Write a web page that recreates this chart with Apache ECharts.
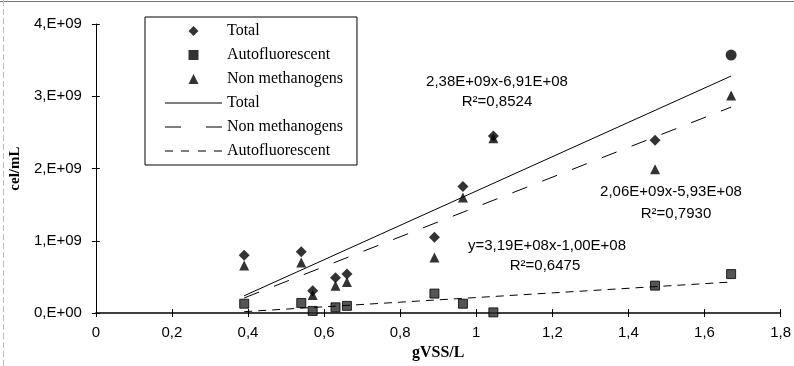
<!DOCTYPE html>
<html>
<head>
<meta charset="utf-8">
<script src="https://cdn.jsdelivr.net/npm/echarts@6/dist/echarts.min.js"></script>
<style>
  html, body { margin: 0; padding: 0; background: #fff; }
  #chart { width: 794px; height: 366px; }
</style>
</head>
<body>
<div id="chart"></div>
<script>
// gVSS/L
var xVals = [0.39, 0.54, 0.57, 0.63, 0.66, 0.89, 0.965, 1.045, 1.47, 1.67]
// cel/mL
var totalVals = [0.80e9, 0.85e9, 0.31e9, 0.49e9, 0.54e9, 1.05e9, 1.75e9, 2.45e9, 2.39e9, 3.57e9]
var autoVals = [0.13e9, 0.14e9, 0.03e9, 0.08e9, 0.10e9, 0.27e9, 0.13e9, 0.01e9, 0.38e9, 0.54e9]
var nonMethVals = [0.66e9, 0.70e9, 0.25e9, 0.38e9, 0.43e9, 0.77e9, 1.60e9, 2.42e9, 1.99e9, 3.01e9]

// trend line end points
var totalFit = [[0.39, 0.24e9], [1.67, 3.28e9]]
var nonMethFit = [[0.39, 0.21e9], [1.67, 2.85e9]]
var autoFit = [[0.39, 0.02e9], [1.67, 0.43e9]]

var xTicks = ['0', '0,2', '0,4', '0,6', '0,8', '1', '1,2', '1,4', '1,6', '1,8']
var yTicks = ['0,E+00', '1,E+09', '2,E+09', '3,E+09', '4,E+09']

function pairs(ys) {
    return xVals.map(function(x, i) { return [x, ys[i]] })
}

var myChart = echarts.init(document.getElementById('chart'))

var sans = 'Liberation Sans'
var serif = 'Liberation Serif'

var totalData = pairs(totalVals)
// last total point is drawn as a circle
totalData[totalData.length - 1] = { value: totalData[totalData.length - 1], symbol: 'circle', symbolSize: 11 }

// legend icons as paths so they keep their aspect inside the wide icon box
var legendData = [
    { name: 'Total', icon: 'path://M5,0L10,5L5,10L0,5Z' },
    { name: 'Autofluorescent', icon: 'path://M0,0h10v10h-10z' },
    { name: 'Non methanogens', icon: 'path://M5,0L10,10L0,10Z' },
    { name: 'Total ', icon: 'path://M0,0h57v1h-57z' },
    { name: 'Non methanogens ', icon: 'path://M0,0h16v1h-16zM41,0h16v1h-16z' },
    { name: 'Autofluorescent ', icon: 'path://M0,0h8v1h-8zM16,0h8v1h-8zM33,0h8v1h-8zM49,0h8v1h-8z' }
]

var option = {
    animation: false,
    grid: { left: 89, right: 11, top: 24, bottom: 46 },
    legend: {
        orient: 'vertical',
        left: 145,
        top: 17,
        padding: [6, 14, 6, 20],
        itemWidth: 57,
        itemHeight: 10,
        itemGap: 8,
        symbolKeepAspect: true,
        borderColor: '#000',
        borderWidth: 1,
        selectedMode: false,
        backgroundColor: '#fff',
        itemStyle: { color: '#000', borderWidth: 0 },
        textStyle: { fontFamily: serif, fontSize: 16, color: '#000' },
        formatter: function(n) { return n.trim() },
        data: legendData
    },
    xAxis: [{
        type: 'value',
        min: 0,
        max: 1.8,
        interval: 0.2,
        splitLine: { show: false },
        axisLine: { lineStyle: { color: '#000', width: 1.5 } },
        axisTick: { length: 4, lineStyle: { color: '#000' } },
        axisLabel: {
            margin: 12,
            fontFamily: sans,
            fontSize: 15,
            color: '#000',
            formatter: function(v) { return xTicks[Math.round(v / 0.2)] }
        },
        name: 'gVSS/L',
        nameLocation: 'middle',
        nameGap: 31,
        nameTextStyle: { fontFamily: serif, fontWeight: 'bold', fontSize: 16, color: '#000' }
    }, {
        type: 'value',
        position: 'bottom',
        min: 0,
        max: 1.8,
        interval: 0.2,
        splitLine: { show: false },
        axisLine: { show: false },
        axisTick: { inside: true, length: 4, lineStyle: { color: '#000' } },
        axisLabel: { show: false }
    }],
    yAxis: [{
        type: 'value',
        min: 0,
        max: 4e9,
        interval: 1e9,
        splitLine: { show: false },
        axisLine: { show: true, lineStyle: { color: '#000' } },
        axisTick: { show: true, length: 4, lineStyle: { color: '#000' } },
        axisLabel: {
            margin: 14,
            fontFamily: sans,
            fontSize: 15,
            color: '#000',
            formatter: function(v) { return yTicks[Math.round(v / 1e9)] }
        },
        name: 'cel/mL',
        nameLocation: 'middle',
        nameGap: 68,
        nameTextStyle: { fontFamily: serif, fontWeight: 'bold', fontSize: 15, color: '#000' }
    }, {
        type: 'value',
        position: 'left',
        min: 0,
        max: 4e9,
        interval: 1e9,
        splitLine: { show: false },
        axisLine: { show: false },
        axisTick: { show: true, inside: true, length: 4, lineStyle: { color: '#000' } },
        axisLabel: { show: false }
    }],
    series: [{
        name: 'Total',
        type: 'scatter',
        symbol: 'diamond',
        symbolSize: 11,
        itemStyle: { color: '#000' },
        data: totalData
    }, {
        name: 'Autofluorescent',
        type: 'scatter',
        symbol: 'rect',
        symbolSize: 9,
        itemStyle: { color: '#2a2a2a', borderColor: '#000', borderWidth: 1 },
        data: pairs(autoVals)
    }, {
        name: 'Non methanogens',
        type: 'scatter',
        symbol: 'triangle',
        symbolSize: 10,
        itemStyle: { color: '#000' },
        data: pairs(nonMethVals)
    }, {
        name: 'Total ',
        type: 'line',
        symbol: 'none',
        lineStyle: { color: '#000', width: 1 },
        itemStyle: { color: '#000' },
        data: totalFit
    }, {
        name: 'Non methanogens ',
        type: 'line',
        symbol: 'none',
        lineStyle: { color: '#000', width: 1, type: [16, 16] },
        itemStyle: { color: '#000' },
        data: nonMethFit
    }, {
        name: 'Autofluorescent ',
        type: 'line',
        symbol: 'none',
        lineStyle: { color: '#000', width: 1, type: [8, 6] },
        itemStyle: { color: '#000' },
        data: autoFit
    }],
    graphic: [
        // frame edges of the scanned figure
        { type: 'line', shape: { x1: 0, y1: 1.5, x2: 794, y2: 1.5 }, style: { stroke: '#777', lineWidth: 1 } },
        { type: 'line', shape: { x1: 3.5, y1: 0, x2: 3.5, y2: 366 }, style: { stroke: '#bbb', lineWidth: 1, lineDash: [6, 3] } },
        // trend equations
        { type: 'text', x: 497, y: 82, style: { text: '2,38E+09x-6,91E+08', font: '15px ' + sans, fill: '#000', align: 'center', verticalAlign: 'middle' } },
        { type: 'text', x: 497, y: 102, style: { text: 'R²=0,8524', font: '15px ' + sans, fill: '#000', align: 'center', verticalAlign: 'middle' } },
        { type: 'text', x: 671, y: 192, style: { text: '2,06E+09x-5,93E+08', font: '15px ' + sans, fill: '#000', align: 'center', verticalAlign: 'middle' } },
        { type: 'text', x: 676, y: 214, style: { text: 'R²=0,7930', font: '15px ' + sans, fill: '#000', align: 'center', verticalAlign: 'middle' } },
        { type: 'text', x: 547, y: 246, style: { text: 'y=3,19E+08x-1,00E+08', font: '15px ' + sans, fill: '#000', align: 'center', verticalAlign: 'middle' } },
        { type: 'text', x: 545, y: 266, style: { text: 'R²=0,6475', font: '15px ' + sans, fill: '#000', align: 'center', verticalAlign: 'middle' } }
    ]
}

myChart.setOption(option)
</script>
</body>
</html>
